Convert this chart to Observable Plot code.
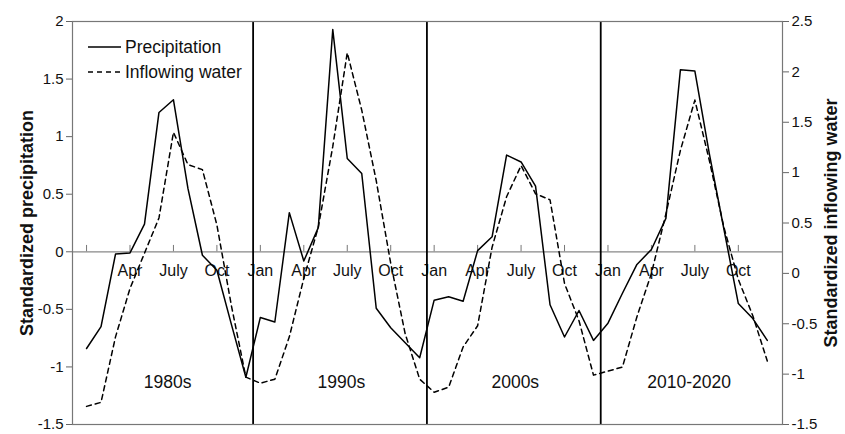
<!DOCTYPE html>
<html><head><meta charset="utf-8">
<script src="https://cdn.jsdelivr.net/npm/d3@7"></script>
<script src="https://cdn.jsdelivr.net/npm/@observablehq/plot@0.6"></script>
<style>html,body{margin:0;padding:0;background:#fff;}</style>
</head><body><div id="chart"></div>
<script>
// ---- data ----
const decades = ["1980s", "1990s", "2000s", "2010-2020"];
const monthTickLabels = ["Jan", "Apr", "July", "Oct"];

// standardized precipitation (left axis), Jan..Dec
const precip1980s = [-0.84, -0.65, -0.02, -0.01, 0.24, 1.21, 1.32, 0.55, -0.03, -0.16, -0.63, -1.09];
const precip1990s = [-0.57, -0.61, 0.34, -0.08, 0.21, 1.93, 0.81, 0.68, -0.49, -0.66, -0.79, -0.92];
const precip2000s = [-0.42, -0.39, -0.43, 0.01, 0.13, 0.84, 0.78, 0.57, -0.46, -0.74, -0.51, -0.77];
const precip2010s = [-0.62, -0.36, -0.11, 0.02, 0.29, 1.58, 1.57, 0.85, 0.20, -0.45, -0.58, -0.77];

// standardized inflowing water (right axis), Jan..Dec
const inflow1980s = [-1.32, -1.28, -0.63, -0.15, 0.20, 0.55, 1.40, 1.08, 1.03, 0.48, -0.32, -1.03];
const inflow1990s = [-1.09, -1.05, -0.63, -0.05, 0.46, 1.26, 2.19, 1.62, 0.92, 0.10, -0.60, -1.05];
const inflow2000s = [-1.18, -1.13, -0.73, -0.52, 0.26, 0.76, 1.07, 0.79, 0.73, -0.10, -0.47, -1.01];
const inflow2010s = [-0.97, -0.93, -0.43, 0.00, 0.59, 1.22, 1.72, 1.12, 0.46, -0.06, -0.42, -0.87];

const leftTicks = [-1.5, -1, -0.5, 0, 0.5, 1, 1.5, 2];
const rightTicks = [-1.5, -1, -0.5, 0, 0.5, 1, 1.5, 2, 2.5];

// ---- build table ----
const precipAll = [precip1980s, precip1990s, precip2000s, precip2010s];
const inflowAll = [inflow1980s, inflow1990s, inflow2000s, inflow2010s];
const leftDomain = [-1.5, 2];
const rightDomain = [-1.5, 2.5];
const toLeft = w => leftDomain[0] + (w - rightDomain[0]) * (leftDomain[1] - leftDomain[0]) / (rightDomain[1] - rightDomain[0]);
const toRight = v => rightDomain[0] + (v - leftDomain[0]) * (rightDomain[1] - rightDomain[0]) / (leftDomain[1] - leftDomain[0]);
const fmt = v => String(Math.round(v * 10) / 10);

const rows = [];
precipAll.forEach((arr, d) => arr.forEach((p, m) => {
  rows.push({i: 12 * d + m, p, w: toLeft(inflowAll[d][m])});
}));
const monthTicks = d3.range(0, 12 * decades.length, 3);
const monthLabelTicks = monthTicks.filter(t => t > 0);

const font = "'Liberation Sans', Arial, sans-serif";

const svg = Plot.plot({
  width: 845,
  height: 434,
  marginLeft: 72,
  marginRight: 63,
  marginTop: 21,
  marginBottom: 10,
  style: {fontFamily: font, fontSize: "15px", background: "#fff", color: "#111"},
  x: {domain: [-0.97, 48.05], axis: null},
  y: {domain: leftDomain, axis: null},
  marks: [
    Plot.ruleY([0], {stroke: "#888", strokeWidth: 1.2}),
    Plot.ruleX(monthTicks, {x: d => d, y1: 0, y2: 0.055, stroke: "#777", strokeWidth: 1}),
    Plot.text(monthLabelTicks, {x: d => d, y: 0, dy: 19, text: d => monthTickLabels[(d / 3) % 4], fontSize: 16, fill: "#111"}),
    Plot.text(decades, {x: (d, i) => 12 * i + 5.6, frameAnchor: "bottom", dy: -37, text: d => d, fontSize: 17.5, fill: "#111"}),
    Plot.line(rows, {x: "i", y: "w", stroke: "#000", strokeWidth: 1.5, strokeDasharray: "5,4"}),
    Plot.line(rows, {x: "i", y: "p", stroke: "#000", strokeWidth: 1.5}),
    Plot.ruleX(decades.slice(1), {x: (d, i) => 12 * (i + 1) - 0.5, stroke: "#000", strokeWidth: 1.8}),
    Plot.frame({stroke: "#777", strokeWidth: 1.2}),
    Plot.axisY(leftTicks, {anchor: "left", tickSize: 6, tickPadding: 3, tickFormat: fmt, label: null, stroke: "#666", fill: "#111", fontSize: 15}),
    Plot.axisY(rightTicks.map(toLeft), {anchor: "right", tickSize: 6, tickPadding: 3, tickFormat: d => fmt(toRight(d)), label: null, stroke: "#666", fill: "#111", fontSize: 15}),
    Plot.text(["Standardized precipitation"], {frameAnchor: "left", dx: -45, rotate: -90, textAnchor: "middle", text: d => d, fontWeight: "bold", fontSize: 18, fill: "#111"}),
    Plot.text(["Standardized inflowing water"], {frameAnchor: "right", dx: 49, rotate: -90, textAnchor: "middle", text: d => d, fontWeight: "bold", fontSize: 18, fill: "#111"})
  ]
});

// legend
const sel = d3.select(svg);
const lg = sel.append("g").attr("font-family", font).attr("font-size", 17.5).attr("fill", "#111").attr("text-anchor", "start");
const legendItems = [
  {label: "Precipitation", dash: null, y: 47},
  {label: "Inflowing water", dash: "5,4", y: 72}
];
legendItems.forEach(it => {
  const ln = lg.append("line").attr("x1", 88).attr("x2", 121).attr("y1", it.y).attr("y2", it.y)
    .attr("stroke", "#000").attr("stroke-width", 1.5);
  if (it.dash) ln.attr("stroke-dasharray", it.dash);
  lg.append("text").attr("x", 125).attr("y", it.y).attr("dy", "0.35em").attr("text-anchor", "start").text(it.label);
});

document.getElementById("chart").appendChild(svg);
</script>
</body></html>
